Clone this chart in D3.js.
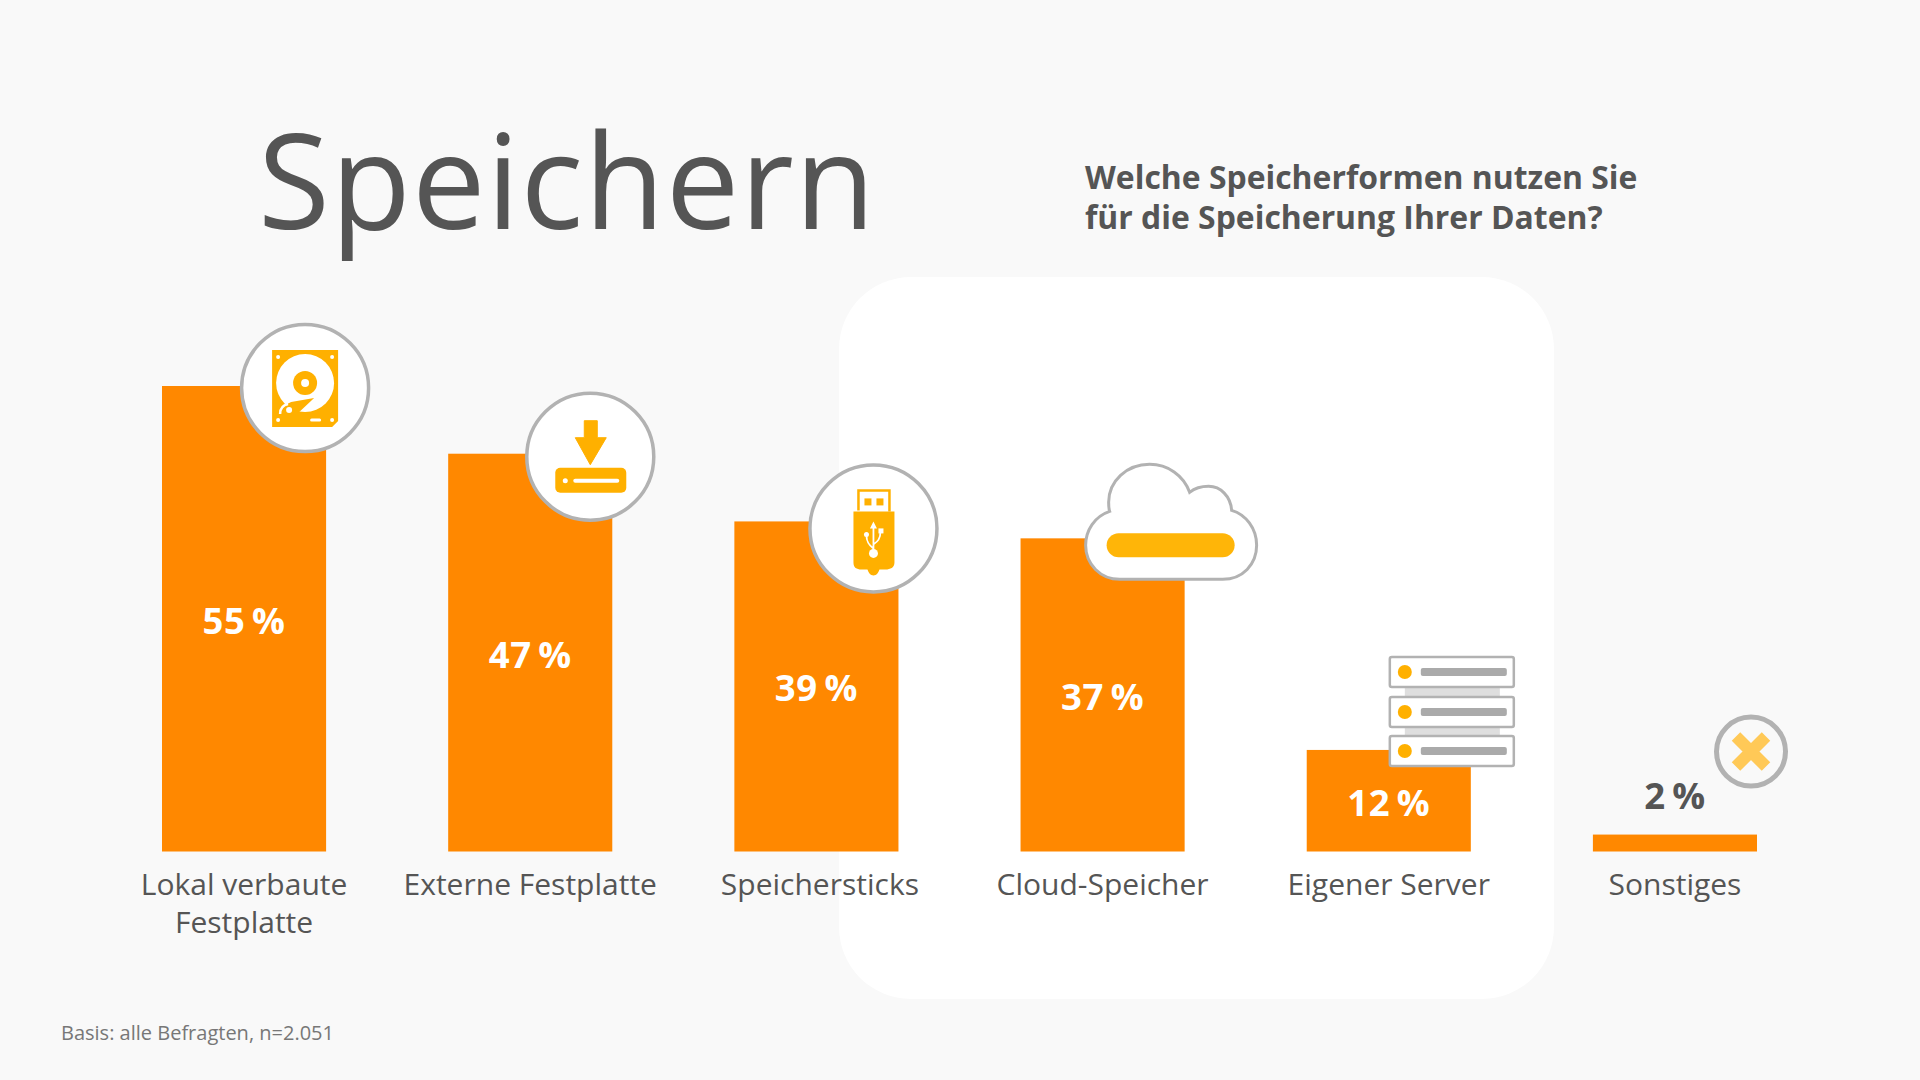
<!DOCTYPE html>
<html>
<head>
  <meta charset="utf-8">
  <title>Speichern</title>
  <script src="https://d3js.org/d3.v7.min.js"></script>
  <style>
    html, body { margin: 0; padding: 0; background: #f9f9f9; }
    svg { display: block; }
    text { font-family: "Open Sans", sans-serif; fill: #555; }
  </style>
</head>
<body>
  <div id="chart"></div>
  <script>
    // Chart data
    const categories = ["Lokal verbaute Festplatte", "Externe Festplatte", "Speichersticks", "Cloud-Speicher", "Eigener Server", "Sonstiges"];
    const values = [55, 47, 39, 37, 12, 2];
    const titleText = "Speichern";
    const questionLines = ["Welche Speicherformen nutzen Sie", "für die Speicherung Ihrer Daten?"];
    const footnote = "Basis: alle Befragten, n=2.051";

    const width = 1920, height = 1080;
    const orange = "#ff8800", yellow = "#ffb000", grey = "#b2b2b2";

    const svg = d3.select("#chart").append("svg").attr("width", width).attr("height", height);

    // White panel behind the cloud and server columns
    svg.append("rect").attr("x", 839).attr("y", 277).attr("width", 715).attr("height", 722)
      .attr("rx", 72).attr("fill", "#fff");

    svg.append("text").attr("x", 258).attr("y", 229).attr("font-size", 131).attr("letter-spacing", 1).text(titleText);

    const question = svg.append("text").attr("font-size", 31.9).attr("font-weight", 700);
    question.selectAll("tspan").data(questionLines).enter().append("tspan")
      .attr("x", 1085).attr("y", (d, i) => 189 + i * 40).text(d => d);

    svg.append("text").attr("x", 61).attr("y", 1040).attr("font-size", 20).style("fill", "#777").text(footnote);

    // Scales
    const x = d3.scaleBand().domain(categories).range([162, 1757]).paddingInner(0.4266);
    const y = d3.scaleLinear().domain([0, 55]).range([851.5, 386]);

    // Bars
    svg.append("g").selectAll("rect").data(values).enter().append("rect")
      .attr("x", (d, i) => x(categories[i]))
      .attr("y", d => y(d))
      .attr("width", x.bandwidth())
      .attr("height", d => y(0) - y(d))
      .attr("fill", orange);

    // Category axis, first label wraps onto two lines
    const axis = svg.append("g").attr("transform", `translate(0,${y(0)})`)
      .call(d3.axisBottom(x).tickSize(0).tickPadding(0));
    axis.select(".domain").remove();
    axis.attr("font-family", null).attr("font-size", null);
    axis.selectAll("text")
      .attr("font-size", 30).attr("dy", null).attr("y", 43)
      .attr("x", d => d === "Speichersticks" ? 3.5 : 0)
      .each(function (d) {
        const t = d3.select(this);
        if (d !== categories[0]) return;
        t.text(null);
        t.append("tspan").attr("x", 0).text("Lokal verbaute");
        t.append("tspan").attr("x", 0).attr("dy", 38).text("Festplatte");
      });

    // Percent labels: inside the bar, above it when the bar is too thin
    svg.append("g").selectAll("text").data(values).enter().append("text")
      .attr("x", (d, i) => x(categories[i]) + x.bandwidth() / 2)
      .attr("y", d => d < 5 ? y(d) - 25.5 : (y(d) + y(0)) / 2 + 15)
      .attr("text-anchor", "middle")
      .attr("font-size", 36.5).attr("font-weight", 700).attr("letter-spacing", 0.6)
      .style("fill", d => d < 5 ? "#555" : "#fff")
      .text(d => d + "\u2009%");

    // Icons, each placed at the top right corner of its bar
    function anchor(i, dx, dy) {
      return svg.append("g")
        .attr("transform", `translate(${x(categories[i]) + x.bandwidth() + dx},${y(values[i]) + dy})`);
    }

    function badge(g) {
      g.append("circle").attr("r", 63.5).attr("fill", "#fff").attr("stroke", grey).attr("stroke-width", 3.5);
    }

    // Hard disk
    const hdd = anchor(0, -21, 2);
    badge(hdd);
    hdd.append("path").attr("d", "M-33 -38H33V33L27 39H-33Z").attr("fill", yellow);
    hdd.append("circle").attr("cy", -5).attr("r", 29).attr("fill", "#fff");
    hdd.append("circle").attr("cy", -5).attr("r", 12).attr("fill", yellow);
    hdd.append("circle").attr("cy", -5).attr("r", 4).attr("fill", "#fff");
    // Read arm: yellow wedge from the pivot out over the platter
    hdd.append("path").attr("d", "M-24 19L-14 14L9 10L-8 26L-18 30Z").attr("fill", yellow);
    hdd.append("circle").attr("cx", -16).attr("cy", 22).attr("r", 3).attr("fill", "#fff");
    hdd.append("path").attr("d", "M-25 26C-25 20 -22 17 -17 16").attr("fill", "none")
      .attr("stroke", "#fff").attr("stroke-width", 2.5);
    [[-27, -31], [27, -31], [-27, 32], [27, 32]].forEach(p => {
      hdd.append("circle").attr("cx", p[0]).attr("cy", p[1]).attr("r", 2).attr("fill", "#fff");
    });
    hdd.append("rect").attr("x", 5).attr("y", 30.5).attr("width", 11).attr("height", 3).attr("rx", 1.5).attr("fill", "#fff");

    // External drive
    const ext = anchor(1, -22, 3);
    badge(ext);
    ext.append("path").attr("d", "M-6 -36H7V-19H16L0 8L-15 -19H-6Z").attr("fill", yellow)
      .attr("stroke", yellow).attr("stroke-linejoin", "round");
    ext.append("rect").attr("x", -35).attr("y", 11).attr("width", 71).attr("height", 25).attr("rx", 5).attr("fill", yellow);
    ext.append("circle").attr("cx", -25).attr("cy", 24).attr("r", 2.5).attr("fill", "#fff");
    ext.append("rect").attr("x", -17).attr("y", 22).attr("width", 46).attr("height", 4).attr("rx", 2).attr("fill", "#fff");

    // USB stick
    const usb = anchor(2, -25, 7);
    badge(usb);
    usb.append("path").attr("d", "M-15 -18V-38H16V-17").attr("fill", "none").attr("stroke", yellow).attr("stroke-width", 2.5);
    usb.append("rect").attr("x", -9).attr("y", -30).attr("width", 7).attr("height", 7).attr("fill", yellow);
    usb.append("rect").attr("x", 3).attr("y", -30).attr("width", 7).attr("height", 7).attr("fill", yellow);
    usb.append("path").attr("d", "M-20 -17H21V34C21 39 17 41 12 41H6C5 44 3 47 0 47C-3 47 -5 44 -6 41H-12C-17 41 -20 39 -20 34Z").attr("fill", yellow);
    usb.append("path").attr("d", "M0 -2V26M0 20C-4 17 -7 14 -7 7M0 16C4 13 7 11 7 3").attr("fill", "none")
      .attr("stroke", "#fff").attr("stroke-width", 1.8);
    usb.append("path").attr("d", "M0 -7L3.5 0H-3.5Z").attr("fill", "#fff");
    usb.append("circle").attr("cy", 25).attr("r", 4.5).attr("fill", "#fff");
    usb.append("circle").attr("cx", -7).attr("cy", 6).attr("r", 2.5).attr("fill", "#fff");
    usb.append("rect").attr("x", 5).attr("y", 0).attr("width", 5).attr("height", 5).attr("fill", "#fff");

    // Cloud
    const cloud = anchor(3, 0, 0);
    cloud.append("path")
      .attr("d", "M-65 41H38C58 41 72 26 72 7C72 -10 61 -24 47 -28C46 -42 36 -52 24 -52C16 -52 10 -50 5 -46C-1 -63 -17 -74 -35 -74C-58 -74 -76 -57 -76 -36C-76 -33 -76 -30 -75 -27C-90 -22 -99 -8 -99 7C-99 26 -84 41 -65 41Z")
      .attr("fill", "#fff").attr("stroke", grey).attr("stroke-width", 3);
    cloud.append("rect").attr("x", -78).attr("y", -5).attr("width", 128).attr("height", 24).attr("rx", 12).attr("fill", "#ffb508");

    // Server rack
    const server = anchor(4, 0, 0);
    [-63, -23].forEach(top => {
      server.append("rect").attr("x", -66).attr("y", top).attr("width", 95).attr("height", 10).attr("fill", "#dedede");
    });
    [-93, -53, -14].forEach(top => {
      server.append("rect").attr("x", -81).attr("y", top).attr("width", 124).attr("height", 30).attr("rx", 2)
        .attr("fill", "#fff").attr("stroke", grey).attr("stroke-width", 2.5);
      server.append("circle").attr("cx", -66).attr("cy", top + 15).attr("r", 7).attr("fill", yellow);
      server.append("rect").attr("x", -50).attr("y", top + 11).attr("width", 86).attr("height", 8).attr("rx", 2).attr("fill", "#aaa");
    });

    // Cross for "Sonstiges"
    const other = anchor(5, -6, -83);
    other.append("circle").attr("r", 34.5).attr("fill", "none").attr("stroke", grey).attr("stroke-width", 5);
    other.append("path").attr("d", "M-15 -15L15 15M15 -15L-15 15").attr("stroke", "#ffc957").attr("stroke-width", 12);
  </script>
</body>
</html>
